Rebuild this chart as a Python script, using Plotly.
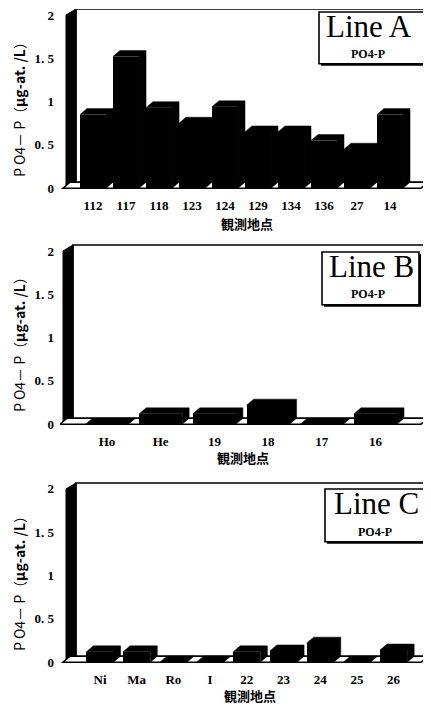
import plotly.graph_objects as go

# ---------------- data ----------------
cats_a = ["112", "117", "118", "123", "124", "129", "134", "136", "27", "14"]
vals_a = [0.85, 1.52, 0.93, 0.75, 0.94, 0.65, 0.65, 0.55, 0.45, 0.85]

cats_b = ["Ho", "He", "19", "18", "17", "16"]
vals_b = [0.0, 0.12, 0.12, 0.22, 0.0, 0.12]

cats_c = ["Ni", "Ma", "Ro", "I", "22", "23", "24", "25", "26"]
vals_c = [0.12, 0.12, 0.0, 0.0, 0.12, 0.13, 0.22, 0.0, 0.14]

ytick_vals = [0, 0.5, 1, 1.5, 2]
ytick_text = ["0", "0. 5", "1", "1. 5", "2"]
panel_names = ["Line A", "Line B", "Line C"]
legend_sub = "PO4-P"
y_title = "P O4－ P（<b>μg-at. /L</b>）"
x_title = "<b>観測地点</b>"

# ---------------- geometry (pixels, in window coordinates) ----------------
OFF = 8                   # default body margin of the page
W, H = 431 - OFF, 706 - OFF
PL, PR = 60, 431          # plot left/right pixel (window)
S = 87.0                  # px per y unit
YLO, YHI = -0.06, 2.1
DXP, DYP = 7, 6           # 3-D depth offset in px
WALLP = 10                # side wall thickness in px

panels = [
    dict(cats=cats_a, vals=vals_a, c0=93, p=33.0, w=0.79, wallL=66, frameR=428, y0=188,
         ytitle_y=106, xt_x=247, xt_y=223,
         box=(319, 11, 426, 63), big=(369, 26), small=(368, 53)),
    dict(cats=cats_b, vals=vals_b, c0=107, p=53.7, w=0.80, wallL=63, frameR=428, y0=425,
         ytitle_y=342, xt_x=243, xt_y=458,
         box=(322, 252, 419, 305), big=(371, 267), small=(368, 294)),
    dict(cats=cats_c, vals=vals_c, c0=100, p=36.7, w=0.74, wallL=66, frameR=428, y0=664,
         ytitle_y=582, xt_x=250, xt_y=697,
         box=(325, 490, 425, 543), big=(376, 505), small=(375, 533)),
]

fig = go.Figure()
shapes = []
annotations = []
dy = DYP / S

def px2paper(x, y):
    return (x - OFF) / W, 1 - (y - OFF) / H

for k, P in enumerate(panels):
    n = k + 1
    xa = "x" if n == 1 else f"x{n}"
    ya = "y" if n == 1 else f"y{n}"
    p = P["p"]
    dx = DXP / p
    wd = WALLP / p
    w = P["w"]
    xr_lo = (PL - P["c0"]) / p
    xr_hi = (PR - P["c0"]) / p
    ytop_px = max(P["y0"] - YHI * S, OFF + 0.01)
    yhi = (P["y0"] - ytop_px) / S
    ybot_px = P["y0"] - YLO * S
    dom_y = [1 - (ybot_px - OFF) / H, min(1.0, 1 - (ytop_px - OFF) / H)]

    xs = list(range(len(P["cats"])))
    fig.add_trace(go.Bar(
        x=xs, y=P["vals"], width=w, marker=dict(color="black", line=dict(width=0)),
        xaxis=xa, yaxis=ya, showlegend=False, hoverinfo="skip"))

    xw = (P["wallL"] - P["c0"]) / p
    xfr = (P["frameR"] - P["c0"]) / p
    xr = xfr - dx
    # back wall frame
    shapes.append(dict(type="rect", xref=xa, yref=ya, x0=xw + wd, x1=xfr, y0=dy, y1=2 + dy,
                       fillcolor="white", line=dict(color="black", width=1.6), layer="below"))
    # left side wall
    shapes.append(dict(type="path", xref=xa, yref=ya,
                       path=f"M {xw},0 L {xw},2 L {xw+wd},{2+dy} L {xw+wd},{dy} Z",
                       fillcolor="black", line=dict(color="black", width=1), layer="below"))
    # floor
    xfl = xw - 3 / p
    shapes.append(dict(type="path", xref=xa, yref=ya,
                       path=f"M {xfl},0 L {xr},0 L {xr+dx},{dy} L {xfl+dx},{dy} Z",
                       fillcolor="white", line=dict(color="black", width=1.6), layer="below"))
    # bar depth (top + side faces)
    for i, v in zip(xs, P["vals"]):
        x0, x1 = i - w / 2, i + w / 2
        shapes.append(dict(type="path", xref=xa, yref=ya,
                           path=(f"M {x0},{v} L {x0+dx},{v+dy} L {x1+dx},{v+dy} "
                                 f"L {x1+dx},{dy} L {x1},0 L {x1},{v} Z"),
                           fillcolor="black", line=dict(color="black", width=0.5),
                           layer="below"))

    fig.update_layout(**{
        ("xaxis" if n == 1 else f"xaxis{n}"): dict(
            domain=[(PL - OFF) / W, 1], range=[xr_lo, xr_hi], anchor=ya,
            tickmode="array", tickvals=xs, ticktext=P["cats"],
            showgrid=False, zeroline=False, showline=False, ticks="",
            ticklabelstandoff=3, ticklabeloverflow="allow",
            tickfont=dict(family="Liberation Serif", size=13, color="black", weight="bold")),
        ("yaxis" if n == 1 else f"yaxis{n}"): dict(
            domain=dom_y, range=[YLO, yhi], anchor=xa,
            tickmode="array", tickvals=ytick_vals, ticktext=ytick_text,
            showgrid=False, zeroline=False, showline=False, ticks="",
            ticklabelstandoff=5, ticklabeloverflow="allow",
            tickfont=dict(family="Liberation Serif", size=13, color="black", weight="bold")),
    })

    # y title
    tx, ty = px2paper(18.5, P["ytitle_y"])
    annotations.append(dict(text=y_title, x=tx, y=ty, xref="paper", yref="paper",
                            textangle=-90, showarrow=False, xanchor="center", yanchor="middle",
                            font=dict(family="Noto Sans CJK JP", size=14, color="black")))
    # x title
    tx, ty = px2paper(P["xt_x"], P["xt_y"])
    annotations.append(dict(text=x_title, x=tx, y=ty, xref="paper", yref="paper",
                            showarrow=False, xanchor="center", yanchor="middle",
                            font=dict(family="Noto Sans CJK JP", size=13, color="black")))
    # legend-like box
    bx0, by0, bx1, by1 = P["box"]
    a0, b0 = px2paper(bx0 + 2, by0 + 2)
    a1, b1 = px2paper(bx1 + 2, by1 + 2)
    shapes.append(dict(type="rect", xref="paper", yref="paper", x0=a0, x1=min(a1, 1.0), y0=b1, y1=b0,
                       fillcolor="black", line=dict(width=0)))
    a0, b0 = px2paper(bx0, by0)
    a1, b1 = px2paper(bx1, by1)
    shapes.append(dict(type="rect", xref="paper", yref="paper", x0=a0, x1=a1, y0=b1, y1=b0,
                       fillcolor="white", line=dict(color="black", width=1.6)))
    tx, ty = px2paper(*P["big"])
    annotations.append(dict(text=panel_names[k], x=tx, y=ty, xref="paper", yref="paper",
                            showarrow=False, xanchor="center", yanchor="middle",
                            font=dict(family="Liberation Serif", size=31, color="black")))
    tx, ty = px2paper(*P["small"])
    annotations.append(dict(text=f"<b>{legend_sub}</b>", x=tx, y=ty, xref="paper", yref="paper",
                            showarrow=False, xanchor="center", yanchor="middle",
                            font=dict(family="Liberation Serif", size=12, color="black")))

fig.update_layout(
    width=W, height=H, margin=dict(l=0, r=0, t=0, b=0),
    paper_bgcolor="white", plot_bgcolor="rgba(0,0,0,0)",
    shapes=shapes, annotations=annotations, bargap=0, showlegend=False,
)

fig.write_html("out.html")
